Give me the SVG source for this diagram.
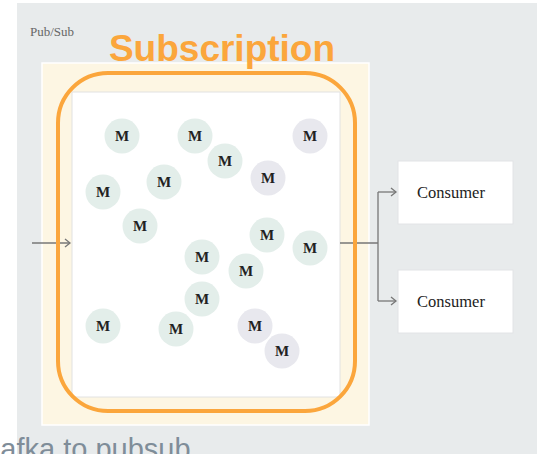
<svg xmlns="http://www.w3.org/2000/svg" width="537" height="454" viewBox="0 0 537 454">
<defs>
<style>
.m{font-family:"Liberation Serif","DejaVu Serif",serif;font-size:15px;font-weight:bold;fill:#222;text-anchor:middle}
.g{fill:#e3eeea}
.p{fill:#e8e8ee}
.conn{fill:none;stroke:#777;stroke-width:1.3}
.cons{fill:#fff;stroke:#e2e4e6;stroke-width:1}
.ct{font-family:"Liberation Serif","DejaVu Serif",serif;font-size:16.5px;fill:#222;text-anchor:middle}
</style>
<marker id="arr" markerWidth="10" markerHeight="10" refX="8" refY="5" orient="auto" markerUnits="userSpaceOnUse">
<path d="M3,1 L8,5 L3,9" fill="none" stroke="#777" stroke-width="1.3"/>
</marker>
</defs>
<rect x="0" y="0" width="537" height="454" fill="#fff"/>
<rect x="17" y="3" width="520" height="451" fill="#e8ebec"/>
<text x="30" y="36" font-family="Liberation Serif,serif" font-size="13" fill="#666">Pub/Sub</text>
<g id="subscription-box">
<rect x="42" y="63" width="327" height="362" fill="#fdf6e3" stroke="#fff" stroke-width="1.5"/>
<rect x="72" y="92" width="268" height="305" fill="#fff" stroke="#e2e2e2" stroke-width="1"/>
</g>
<g id="connectors">
<path class="conn" d="M32,243 H70" marker-end="url(#arr)"/>
<path class="conn" d="M340,243 H378 M378,192 V301"/>
<path class="conn" d="M378,192 H396" marker-end="url(#arr)"/>
<path class="conn" d="M378,301 H396" marker-end="url(#arr)"/>
</g>
<g id="messages">
<g id="m1"><circle class="g" cx="122" cy="136" r="17.5"/><text class="m" x="122" y="141">M</text></g>
<g id="m2"><circle class="g" cx="195" cy="136" r="17.5"/><text class="m" x="195" y="141">M</text></g>
<g id="m3"><circle class="p" cx="310" cy="136" r="17.5"/><text class="m" x="310" y="141">M</text></g>
<g id="m4"><circle class="g" cx="225" cy="161" r="17.5"/><text class="m" x="225" y="166">M</text></g>
<g id="m5"><circle class="p" cx="268" cy="178" r="17.5"/><text class="m" x="268" y="183">M</text></g>
<g id="m6"><circle class="g" cx="103" cy="192" r="17.5"/><text class="m" x="103" y="197">M</text></g>
<g id="m7"><circle class="g" cx="164" cy="182" r="17.5"/><text class="m" x="164" y="187">M</text></g>
<g id="m8"><circle class="g" cx="140" cy="226" r="17.5"/><text class="m" x="140" y="231">M</text></g>
<g id="m9"><circle class="g" cx="267" cy="235" r="17.5"/><text class="m" x="267" y="240">M</text></g>
<g id="m10"><circle class="g" cx="310" cy="248" r="17.5"/><text class="m" x="310" y="253">M</text></g>
<g id="m11"><circle class="g" cx="202" cy="257" r="17.5"/><text class="m" x="202" y="262">M</text></g>
<g id="m12"><circle class="g" cx="246" cy="271" r="17.5"/><text class="m" x="246" y="276">M</text></g>
<g id="m13"><circle class="g" cx="202" cy="299" r="17.5"/><text class="m" x="202" y="304">M</text></g>
<g id="m14"><circle class="g" cx="103" cy="326" r="17.5"/><text class="m" x="103" y="331">M</text></g>
<g id="m15"><circle class="g" cx="176" cy="329" r="17.5"/><text class="m" x="176" y="334">M</text></g>
<g id="m16"><circle class="p" cx="255" cy="326" r="17.5"/><text class="m" x="255" y="331">M</text></g>
<g id="m17"><circle class="p" cx="282" cy="351" r="17.5"/><text class="m" x="282" y="356">M</text></g>
</g>
<g id="subscription-outline">
<rect x="58" y="73" width="297" height="338" rx="50" ry="50" fill="none" stroke="#fba63c" stroke-width="4"/>
<text x="222" y="61" font-family="Liberation Sans,Arial,sans-serif" font-size="37" font-weight="bold" fill="#fba63c" text-anchor="middle">Subscription</text>
</g>
<g id="consumer1">
<rect class="cons" x="398" y="161" width="115" height="63"/>
<text class="ct" x="451" y="198">Consumer</text>
</g>
<g id="consumer2">
<rect class="cons" x="398" y="270" width="115" height="63"/>
<text class="ct" x="451" y="307">Consumer</text>
</g>
<text x="-19" y="459" font-family="Liberation Sans,Arial,sans-serif" font-size="29" fill="#7f8d99">Kafka to pubsub</text>
</svg>
